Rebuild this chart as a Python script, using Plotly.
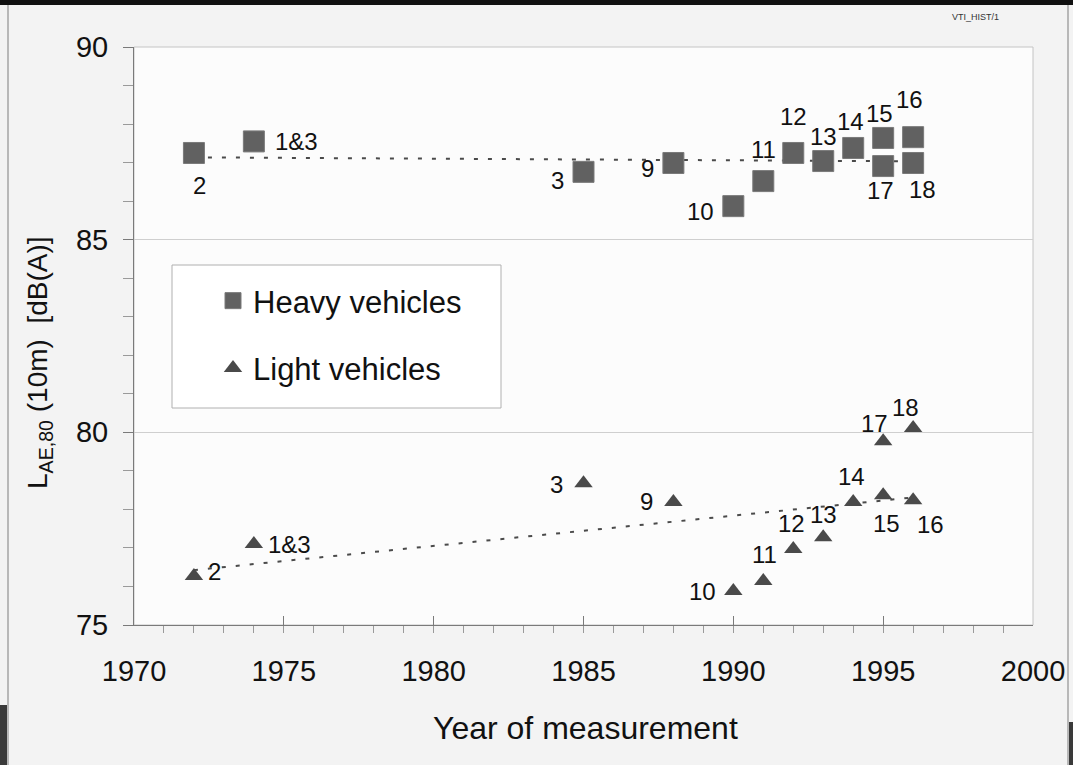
import numpy as np
import plotly.graph_objects as go

# ---------------- data ----------------
heavy_year = [1972, 1974, 1985, 1988, 1990, 1991, 1992, 1993, 1994, 1995, 1995, 1996, 1996]
heavy_lae = [87.25, 87.55, 86.76, 86.99, 85.87, 86.52, 87.25, 87.04, 87.38, 87.64, 86.91, 87.66, 86.99]
heavy_label = ["2", "1&3", "3", "9", "10", "11", "12", "13", "14", "15", "17", "16", "18"]

light_year = [1972, 1974, 1985, 1988, 1990, 1991, 1992, 1993, 1994, 1995, 1995, 1996, 1996]
light_lae = [76.27, 77.10, 78.68, 78.19, 75.88, 76.14, 76.97, 77.28, 78.19, 78.37, 79.77, 78.24, 80.11]
light_label = ["2", "1&3", "3", "9", "10", "11", "12", "13", "14", "15", "17", "16", "18"]

x_ticks = [1970, 1975, 1980, 1985, 1990, 1995, 2000]
y_ticks = [75, 80, 85, 90]

# ---------------- styling (label offsets in px: dx right, dy down) ----------------
heavy_off = [(6, 33), (43, 0), (-26, 9), (-26, 6), (-33, 5), (0, -32), (0, -36),
             (0, -25), (-3, -26), (-4, -24), (-3, 24), (-4, -38), (9, 27)]
light_off = [(21, -5), (36, 0), (-27, 1), (-27, -1), (-31, 0), (1, -27), (-2, -26),
             (0, -23), (-2, -26), (3, 28), (-9, -18), (17, 24), (-8, -21)]

W, H = 1073, 765
ML, MR, MT, MB = 134, 40, 47, 140
PW, PH = W - ML - MR, H - MT - MB
FONT = "Liberation Sans, Arial, sans-serif"


def px_x(p):
    return (p - ML) / PW


def px_y(p):
    return (H - MB - p) / PH


fig = go.Figure()

# trend lines (least squares fit of each series)
for xs, ys in ((heavy_year, heavy_lae), (light_year, light_lae)):
    k, b = np.polyfit(xs, ys, 1)
    xe = [min(xs), max(xs)]
    fig.add_trace(go.Scatter(x=xe, y=[k * v + b for v in xe], mode="lines",
                             line=dict(color="#4a4a4a", width=2, dash="4px,10px"),
                             showlegend=False, hoverinfo="skip"))

fig.add_trace(go.Scatter(x=heavy_year, y=heavy_lae, mode="markers", name="Heavy vehicles",
                         legendgroup="h",
                         marker=dict(symbol="square", size=21, color="#616161",
                                     line=dict(color="#7a7a7a", width=1))))
fig.add_trace(go.Scatter(x=light_year, y=light_lae, mode="markers", name="Light vehicles",
                         legendgroup="l",
                         marker=dict(symbol="triangle-up", size=16, color="#4a4a4a",
                                     line=dict(width=0))))

ann = []
for xs, ys, labs, offs in ((heavy_year, heavy_lae, heavy_label, heavy_off),
                           (light_year, light_lae, light_label, light_off)):
    for xv, yv, t, (dx, dy) in zip(xs, ys, labs, offs):
        ann.append(dict(x=xv, y=yv, xref="x", yref="y", text=t, showarrow=False,
                        xanchor="center", yanchor="middle", xshift=dx, yshift=-dy,
                        font=dict(family=FONT, size=24, color="#111111")))

# y-axis title
ann.append(dict(x=px_x(40), y=px_y(363), xref="paper", yref="paper",
                text="L<sub>AE,80</sub> (10m)  [dB(A)]", textangle=-90, showarrow=False,
                xanchor="center", yanchor="middle",
                font=dict(family=FONT, size=28, color="#111111")))
# x-axis title
ann.append(dict(x=px_x(585), y=px_y(728), xref="paper", yref="paper",
                text="Year of measurement", showarrow=False,
                xanchor="center", yanchor="middle",
                font=dict(family=FONT, size=32, color="#111111")))
# corner tag
ann.append(dict(x=px_x(975), y=px_y(17), xref="paper", yref="paper",
                text="VTI_HIST/1", showarrow=False, xanchor="center", yanchor="middle",
                font=dict(family=FONT, size=9, color="#333333")))

shapes = [
    # plot frame (light)
    dict(type="rect", xref="paper", yref="paper", x0=0, x1=1, y0=0, y1=1,
         line=dict(color="#c4c4c4", width=1), layer="below"),
    # legend box
    dict(type="rect", xref="paper", yref="paper", x0=px_x(172), x1=px_x(501),
         y0=px_y(408), y1=px_y(265), line=dict(color="#b0b0b0", width=1),
         fillcolor="#ffffff", layer="below"),
    # screenshot frame bits
    dict(type="rect", xref="paper", yref="paper", x0=px_x(0), x1=px_x(W),
         y0=px_y(5), y1=px_y(0), line=dict(width=0), fillcolor="#111111"),
    dict(type="line", xref="paper", yref="paper", x0=px_x(8), x1=px_x(8),
         y0=px_y(5), y1=px_y(H), line=dict(color="#b8b8b8", width=2)),
    dict(type="line", xref="paper", yref="paper", x0=px_x(1068), x1=px_x(1068),
         y0=px_y(5), y1=px_y(H), line=dict(color="#b8b8b8", width=2)),
    dict(type="rect", xref="paper", yref="paper", x0=px_x(0), x1=px_x(7),
         y0=px_y(H), y1=px_y(705), line=dict(width=0), fillcolor="#3a3a3a"),
    dict(type="rect", xref="paper", yref="paper", x0=px_x(1069), x1=px_x(W),
         y0=px_y(H), y1=px_y(722), line=dict(width=0), fillcolor="#3a3a3a"),
]

fig.update_layout(
    width=W, height=H,
    margin=dict(l=ML, r=MR, t=MT, b=MB, pad=0, autoexpand=False),
    paper_bgcolor="#f3f3f3", plot_bgcolor="#fcfcfc",
    font=dict(family=FONT, color="#111111"),
    showlegend=True,
    legend=dict(x=px_x(213), y=px_y(274), xanchor="left", yanchor="top",
                bgcolor="rgba(0,0,0,0)", borderwidth=0,
                font=dict(family=FONT, size=31, color="#111111"),
                traceorder="grouped", tracegroupgap=24, itemsizing="trace"),
    annotations=ann, shapes=shapes,
)
fig.update_xaxes(range=[1970, 2000], tickvals=x_ticks, ticktext=[str(v) for v in x_ticks],
                 automargin=False,
                 showgrid=False, zeroline=False, showline=True, linecolor="#7a7a7a", linewidth=1,
                 ticks="inside", ticklen=9, tickcolor="#7a7a7a",
                 minor=dict(dtick=1, tick0=1970, ticks="outside", ticklen=7, tickcolor="#9a9a9a"),
                 tickfont=dict(family=FONT, size=29, color="#111111"), ticklabelstandoff=20)
fig.update_yaxes(range=[75, 90], tickvals=y_ticks, ticktext=[str(v) for v in y_ticks],
                 automargin=False,
                 showgrid=True, gridcolor="#cfcfcf", gridwidth=1, zeroline=False,
                 showline=True, linecolor="#7a7a7a", linewidth=1,
                 ticks="outside", ticklen=10, tickcolor="#7a7a7a",
                 minor=dict(dtick=1, tick0=75, ticks="outside", ticklen=10, tickcolor="#9a9a9a"),
                 tickfont=dict(family=FONT, size=29, color="#111111"), ticklabelstandoff=9)

fig.write_html("out.html", config={"displayModeBar": False},
               post_script="document.body.style.margin='0px';document.body.style.overflow='hidden';")
